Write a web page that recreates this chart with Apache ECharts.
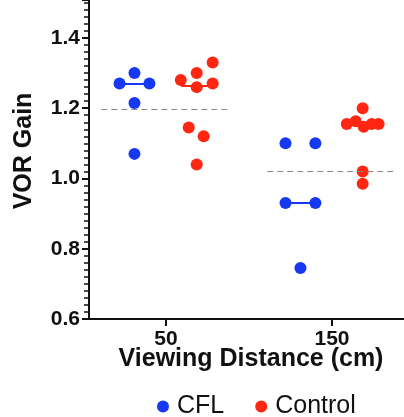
<!DOCTYPE html>
<html>
<head>
<meta charset="utf-8">
<script src="https://cdn.jsdelivr.net/npm/echarts@6/dist/echarts.min.js"></script>
<style>
  html, body { margin: 0; padding: 0; background: #ffffff; }
  #chart { width: 404px; height: 417px; }
</style>
</head>
<body>
<div id="chart"></div>
<script>
// Viewing distances (cm) on the x axis
const distances = [50, 150];

// VOR gain per subject, at 50 cm and 150 cm
const cflGain50 = [1.27, 1.30, 1.27, 1.215, 1.07];
const cflGain150 = [1.10, 1.10, 0.93, 0.93, 0.745];
const controlGain50 = [1.33, 1.30, 1.28, 1.26, 1.27, 1.145, 1.12, 1.04];
const controlGain150 = [1.20, 1.155, 1.163, 1.147, 1.155, 1.155, 1.02, 0.985];

// Horizontal scatter (in cm units) so overlapping subjects stay visible
const cflJitter50 = [-9, 0, 9, 0, 0];
const cflJitter150 = [-9, 9, -9, 9, 0];
const controlJitter50 = [9.6, 0, -9.6, 0, 9.6, -4.8, 4.2, 0];
const controlJitter150 = [0, -9.6, -4.2, 0.6, 5.4, 9.6, 0, 0];

// Expected gain reference at each distance
const refGain = [1.197, 1.021];

const BLUE = '#1638f2';
const RED = '#ff2612';
const INK = '#111111';
const FONT = '"Liberation Sans", Arial, sans-serif';

const Y_MIN = 0.6;
const Y_MAX = 1.508;

const groupShift = { CFL: -19, Control: 18.5 };
const medianHalf = 9.4;
const refHalf = 39;

function median(arr) {
  const s = arr.slice().sort((a, b) => a - b);
  const m = Math.floor(s.length / 2);
  return s.length % 2 ? s[m] : (s[m - 1] + s[m]) / 2;
}

function points(groupName, gains, jitters) {
  const out = [];
  gains.forEach((g, di) => {
    g.forEach((v, i) => out.push([distances[di] + groupShift[groupName] + jitters[di][i], v]));
  });
  return out;
}

function medianLines(groupName, gains) {
  return gains.map((g, di) => {
    const c = distances[di] + groupShift[groupName];
    const m = median(g);
    return [{ coord: [c - medianHalf, m] }, { coord: [c + medianHalf, m] }];
  });
}

const cflGains = [cflGain50, cflGain150];
const controlGains = [controlGain50, controlGain150];

const chart = echarts.init(document.getElementById('chart'));

chart.setOption({
  animation: false,
  grid: { left: 89, right: 0, top: 0, bottom: 98 },
  xAxis: {
    type: 'value',
    min: 3.6,
    max: 193.4,
    splitLine: { show: false },
    axisLine: { show: true, lineStyle: { color: INK, width: 2 } },
    axisTick: { show: true, customValues: distances, length: 7, lineStyle: { color: INK, width: 2 } },
    axisLabel: {
      customValues: distances,
      margin: 10,
      color: INK,
      fontFamily: FONT,
      fontWeight: 'bold',
      fontSize: 21
    }
  },
  yAxis: [
    {
      type: 'value',
      min: Y_MIN,
      max: Y_MAX,
      interval: 0.2,
      splitLine: { show: false },
      axisLine: { show: true, lineStyle: { color: INK, width: 2 } },
      axisTick: { show: true, length: 7, lineStyle: { color: INK, width: 2 } },
      axisLabel: {
        margin: 9,
        color: INK,
        fontFamily: FONT,
        fontWeight: 'bold',
        fontSize: 21,
        formatter: v => (v > 1.45 ? '' : v.toFixed(1))
      }
    },
    {
      // short unlabelled ticks every 0.02
      type: 'value',
      position: 'left',
      min: Y_MIN,
      max: Y_MAX,
      interval: 0.02,
      splitLine: { show: false },
      axisLine: { show: true, lineStyle: { color: INK, width: 2 } },
      axisTick: { show: true, length: 5, lineStyle: { color: INK, width: 1.5 } },
      axisLabel: { show: false }
    }
  ],
  legend: {
    data: ['CFL', 'Control'],
    left: 157,
    top: 394,
    padding: 0,
    itemGap: 31,
    itemWidth: 12,
    itemHeight: 12,
    icon: 'circle',
    textStyle: { fontFamily: FONT, fontSize: 25, color: INK, padding: [0, 0, 0, 3] }
  },
  graphic: [
    {
      type: 'text',
      x: 12,
      y: 151,
      rotation: Math.PI / 2,
      style: {
        text: 'VOR Gain',
        font: 'bold 25px ' + FONT,
        fill: INK,
        align: 'center',
        verticalAlign: 'top'
      }
    },
    {
      type: 'text',
      x: 251,
      y: 347,
      style: {
        text: 'Viewing Distance (cm)',
        font: 'bold 25px ' + FONT,
        fill: INK,
        align: 'center',
        verticalAlign: 'top'
      }
    }
  ],
  series: [
    {
      name: 'Reference',
      type: 'scatter',
      data: [],
      silent: true,
      markLine: {
        silent: true,
        symbol: 'none',
        label: { show: false },
        lineStyle: { color: '#8a8a8a', width: 1, type: [6, 4] },
        data: refGain.map((r, di) => [
          { coord: [distances[di] - refHalf, r] },
          { coord: [distances[di] + refHalf, r] }
        ])
      }
    },
    {
      name: 'CFL',
      type: 'scatter',
      symbol: 'circle',
      symbolSize: 12,
      itemStyle: { color: BLUE, opacity: 1 },
      data: points('CFL', cflGains, [cflJitter50, cflJitter150]),
      markLine: {
        silent: true,
        symbol: 'none',
        label: { show: false },
        lineStyle: { color: BLUE, width: 2, type: 'solid' },
        data: medianLines('CFL', cflGains)
      }
    },
    {
      name: 'Control',
      type: 'scatter',
      symbol: 'circle',
      symbolSize: 12,
      itemStyle: { color: RED, opacity: 1 },
      data: points('Control', controlGains, [controlJitter50, controlJitter150]),
      markLine: {
        silent: true,
        symbol: 'none',
        label: { show: false },
        lineStyle: { color: RED, width: 2, type: 'solid' },
        data: medianLines('Control', controlGains)
      }
    }
  ]
});
</script>
</body>
</html>
